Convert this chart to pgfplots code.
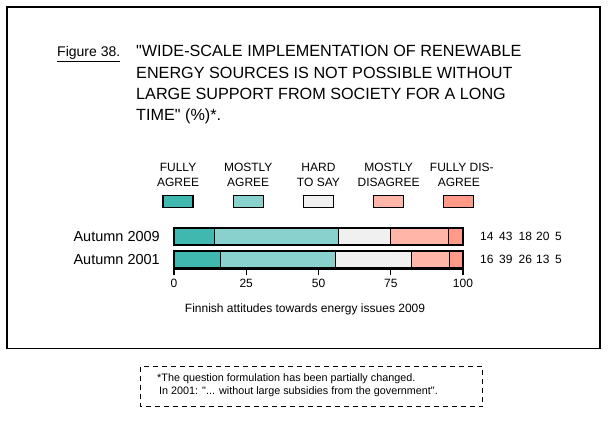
\documentclass[border=0pt]{standalone}
\usepackage{fontspec}
\setmainfont{Liberation Sans}[Ligatures=TeXOff]
\usepackage{pgfplots}
\pgfplotsset{compat=1.18}

\definecolor{fagree}{HTML}{40B8B0}
\definecolor{magree}{HTML}{88D1CD}
\definecolor{hard}{HTML}{F0F0F0}
\definecolor{mdis}{HTML}{FFB6A8}
\definecolor{fdis}{HTML}{FF9A88}

\newcommand{\lfont}{\fontsize{12}{15}\selectfont}

% legend swatch with a two-line label above it
\newcommand{\swatch}[4]{%
  \path (-34pt,0pt) (34pt,0pt);
  \draw[fill=#1,draw=black,line width=1.2pt] (-15pt,-6pt) rectangle (15pt,6pt);
  \node[anchor=base,inner sep=0pt,font=\lfont] at (#4,30pt) {#2};
  \node[anchor=base,inner sep=0pt,font=\lfont] at (0pt,15pt) {#3};
}

\begin{document}
\begin{tikzpicture}
\path[use as bounding box] (0,0) rectangle (608pt,426pt);

\begin{axis}[
  at={(174pt,156.7pt)}, anchor=south west,
  scale only axis, width=289pt, height=44.3pt,
  xbar stacked, bar width=17pt,
  xmin=0, xmax=100, ymin=-0.426, ymax=1.5,
  clip=false,
  axis x line*=bottom, axis y line*=left,
  x axis line style={-, line width=1.2pt},
  y axis line style={draw=none},
  xtick={0,25,50,75,100},
  tick align=outside, major tick length=6pt,
  xtick style={line width=1.2pt, black},
  ytick={0,1}, yticklabels={Autumn 2001, Autumn 2009},
  ytick style={draw=none},
  yticklabel style={font=\fontsize{14.5}{16}\selectfont, inner sep=0pt, xshift=-8pt},
  xticklabel style={font=\fontsize{12}{14}\selectfont},
  /pgf/number format/assume math mode=true,
  every axis plot/.append style={draw=black, line width=1.2pt},
  legend columns=5,
  legend style={at={(0.502,1.384)}, anchor=south, draw=none, fill=none,
    inner sep=0pt, outer sep=0pt, nodes={inner sep=0pt}, column sep=0pt},
]
\addplot[fill=fagree, legend image code/.code={\swatch{fagree}{FULLY}{AGREE}{0pt}}]
  coordinates {(14,1) (16,0)};
\addplot[fill=magree, legend image code/.code={\swatch{magree}{MOSTLY}{AGREE}{0pt}}]
  coordinates {(43,1) (39.8,0)};
\addplot[fill=hard, legend image code/.code={\swatch{hard}{HARD}{TO SAY}{0pt}}]
  coordinates {(18,1) (26.4,0)};
\addplot[fill=mdis, legend image code/.code={\swatch{mdis}{MOSTLY}{DISAGREE}{0pt}}]
  coordinates {(20,1) (13,0)};
\addplot[fill=fdis, legend image code/.code={\swatch{fdis}{FULLY DIS-}{AGREE}{3pt}}]
  coordinates {(5,1) (4.8,0)};
\addlegendentry{\hphantom{}}
\addlegendentry{\hphantom{}}
\addlegendentry{\hphantom{}}
\addlegendentry{\hphantom{}}
\addlegendentry{\hphantom{}}

% values printed beside the bars
\node[anchor=west, inner sep=0pt, font=\lfont] at (axis cs:105.88,1) {14};
\node[anchor=west, inner sep=0pt, font=\lfont] at (axis cs:112.46,1) {43};
\node[anchor=west, inner sep=0pt, font=\lfont] at (axis cs:119.2,1) {18};
\node[anchor=west, inner sep=0pt, font=\lfont] at (axis cs:125.26,1) {20};
\node[anchor=west, inner sep=0pt, font=\lfont] at (axis cs:131.83,1) {5};
\node[anchor=west, inner sep=0pt, font=\lfont] at (axis cs:105.88,0) {16};
\node[anchor=west, inner sep=0pt, font=\lfont] at (axis cs:112.46,0) {39};
\node[anchor=west, inner sep=0pt, font=\lfont] at (axis cs:119.2,0) {26};
\node[anchor=west, inner sep=0pt, font=\lfont] at (axis cs:125.26,0) {13};
\node[anchor=west, inner sep=0pt, font=\lfont] at (axis cs:131.83,0) {5};
\end{axis}

\begin{scope}[x=1pt, y=-1pt, shift={(0pt,426pt)}]
  \draw[line width=1.3pt] (7,7) rectangle (600,348.5);
  \node[anchor=base west, inner sep=0pt, font=\fontsize{14}{16}\selectfont] at (57,57) {\underline{Figure 38.}};
  \begin{scope}[every node/.style={anchor=base west, inner sep=0pt, font=\fontsize{16.2}{20}\selectfont}]
    \node at (136,57) {"WIDE-SCALE IMPLEMENTATION OF RENEWABLE};
    \node at (136,78.4) {ENERGY SOURCES IS NOT POSSIBLE WITHOUT};
    \node at (136,99.7) {LARGE SUPPORT FROM SOCIETY FOR A LONG};
    \node at (136,121) {TIME" (\%)*.};
  \end{scope}
  \node[anchor=base, inner sep=0pt, font=\fontsize{12}{14}\selectfont] at (305,313) {Finnish attitudes towards energy issues 2009};
  \draw[line width=1.2pt, dash pattern=on 5pt off 4pt] (140.7,366.7) rectangle (482.7,406.7);
  \node[anchor=base west, inner sep=0pt, font=\fontsize{10.8}{13}\selectfont] at (157,381) {*The question formulation has been partially changed.};
  \node[anchor=base west, inner sep=0pt, font=\fontsize{10.8}{13}\selectfont] at (159,394.5) {In 2001: "... without large subsidies from the government".};
\end{scope}
\end{tikzpicture}
\end{document}
